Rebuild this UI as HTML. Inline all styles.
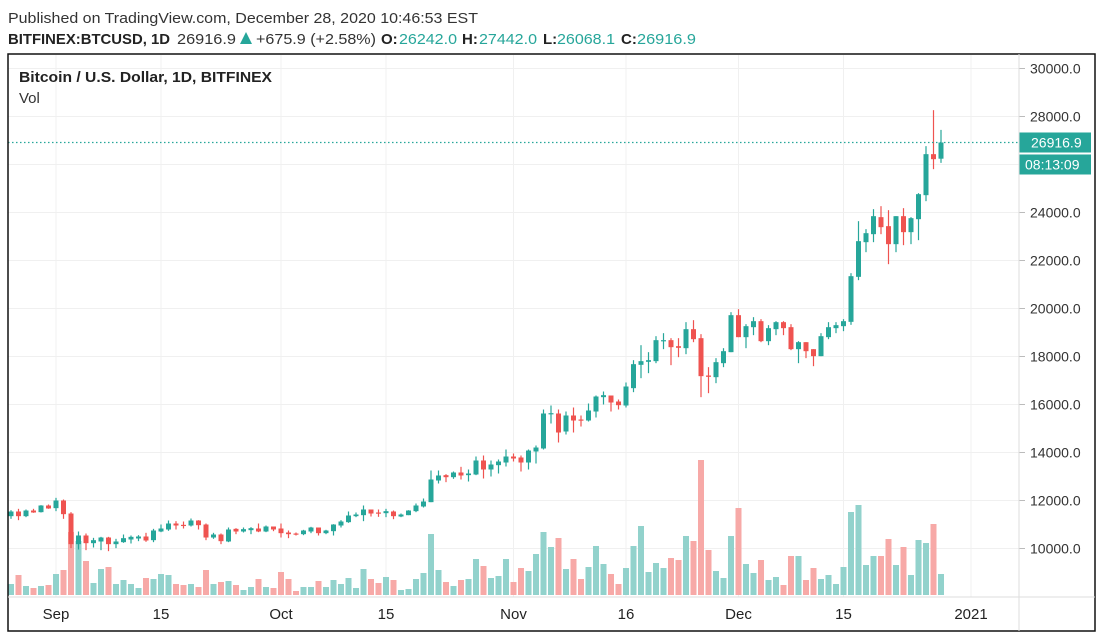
<!DOCTYPE html>
<html><head><meta charset="utf-8"><style>
body{margin:0;background:#fff;}
svg{display:block;font-family:"Liberation Sans",sans-serif;}
</style></head><body>
<svg id="chart" width="1105" height="640" viewBox="0 0 1105 640">
<text x="8" y="23" font-size="15" fill="#333" textLength="470" lengthAdjust="spacingAndGlyphs">Published on TradingView.com, December 28, 2020 10:46:53 EST</text>
<g font-size="15">
<text x="8" y="44" font-weight="bold" fill="#222" textLength="162" lengthAdjust="spacingAndGlyphs">BITFINEX:BTCUSD, 1D</text>
<text x="177" y="44" fill="#333" textLength="59" lengthAdjust="spacingAndGlyphs">26916.9</text>
<polygon points="240,44 252,44 246,32" fill="#26a69a"/>
<text x="256" y="44" fill="#333" textLength="120" lengthAdjust="spacingAndGlyphs">+675.9 (+2.58%)</text>
<text x="381" y="44" font-weight="bold" fill="#222">O:</text>
<text x="399" y="44" fill="#26a69a" textLength="58" lengthAdjust="spacingAndGlyphs">26242.0</text>
<text x="462" y="44" font-weight="bold" fill="#222">H:</text>
<text x="479" y="44" fill="#26a69a" textLength="58" lengthAdjust="spacingAndGlyphs">27442.0</text>
<text x="543" y="44" font-weight="bold" fill="#222">L:</text>
<text x="557" y="44" fill="#26a69a" textLength="58" lengthAdjust="spacingAndGlyphs">26068.1</text>
<text x="621" y="44" font-weight="bold" fill="#222">C:</text>
<text x="637" y="44" fill="#26a69a" textLength="59" lengthAdjust="spacingAndGlyphs">26916.9</text>
</g>
<g id="grid"></g>
<g id="vol"></g>
<g id="candles"></g>
<g id="axes"></g>
<rect x="8" y="54" width="1087" height="577" fill="none" stroke="#111" stroke-width="1.5"/>
<line x1="1019" y1="54" x2="1019" y2="631" stroke="#ddd"/>
<line x1="8" y1="597" x2="1095" y2="597" stroke="#ddd"/>
<text x="19" y="82" font-size="15" font-weight="bold" fill="#222" textLength="253" lengthAdjust="spacingAndGlyphs">Bitcoin / U.S. Dollar, 1D, BITFINEX</text>
<text x="19" y="103" font-size="15" fill="#333">Vol</text>
</svg>
<script>
const opens=[11347,11542,11347,11583,11514,11792,11681,12000,11458,10181,10542,10222,10292,10458,10181,10264,10375,10417,10500,10347,10708,10792,11042,10986,10958,11167,11000,10458,10583,10292,10819,10708,10764,10833,10708,10917,10833,10667,10625,10597,10708,10875,10639,10722,10958,11097,11347,11389,11625,11500,11472,11542,11333,11389,11556,11750,11931,12833,13056,12972,13167,13056,13083,13667,13292,13472,13583,13833,13792,13583,14042,14167,15611,15625,14875,15542,15375,15333,15708,16306,16375,16125,15958,16681,17653,17778,17806,18653,18681,18431,18347,19139,18764,17208,17139,17722,18181,19722,18806,19222,19472,18639,19139,19431,19222,18306,18597,18306,18014,18806,19181,19264,19444,21319,22764,23097,23806,23431,22681,23847,23181,23722,24722,26431,26242];
const highs=[11597,11653,11625,11653,11806,11833,12111,12042,11514,10708,10625,10444,10486,10486,10403,10583,10542,10556,10653,10819,11000,11167,11139,11125,11250,11181,11042,10653,10625,10875,10847,10875,10889,11042,10958,10917,11042,10750,10667,10778,10903,10875,10778,11014,11181,11542,11500,11792,11625,11625,11653,11583,11458,11597,11875,12083,13250,13250,13097,13208,13403,13292,13833,13875,13667,13708,14125,13958,13875,14125,14292,15792,15958,15792,15708,15875,15542,16042,16375,16542,16375,16208,16917,17847,18472,18181,18847,18972,18764,18764,19431,19514,18931,17556,17931,18347,19847,19972,19347,19639,19556,19306,19472,19472,19347,18639,18597,18306,18972,19431,19431,19556,21472,23639,23306,24139,24264,24097,23847,24181,23806,24806,26764,28264,27442];
const lows=[11236,11181,11306,11486,11500,11653,11556,11236,10014,9958,9931,10042,9931,9889,10014,10236,10208,10306,10278,10264,10681,10736,10792,10833,10917,10792,10347,10403,10181,10264,10597,10667,10597,10681,10681,10722,10458,10431,10542,10556,10639,10542,10597,10542,10875,11069,11306,11139,11333,11319,11306,11222,11306,11389,11514,11708,11931,12708,12764,12903,12875,12792,13056,12917,13000,13125,13417,13625,13208,13292,13542,14125,15208,14417,14750,14833,15083,15292,15458,16000,15708,15792,15875,16514,17097,17306,17722,18306,17639,17972,18097,18597,16306,16472,16889,17556,18181,18806,18347,18889,18597,18472,18889,18889,18264,17722,17931,17597,18014,18722,18972,19056,19319,21181,22347,22764,23097,21847,22347,22639,22681,22847,24472,25806,26068.1];
const closes=[11542,11347,11583,11500,11792,11667,12000,11431,10181,10542,10222,10347,10458,10181,10292,10431,10486,10500,10333,10750,10833,11042,10958,10972,11167,10972,10458,10583,10306,10792,10708,10806,10847,10708,10917,10792,10639,10597,10583,10750,10875,10639,10750,11000,11125,11375,11417,11625,11458,11486,11556,11347,11417,11583,11792,11958,12875,13042,12972,13167,13042,13125,13667,13292,13500,13625,13833,13750,13583,14083,14208,15625,15639,14833,15542,15333,15347,15750,16333,16389,16083,15972,16750,17681,17806,17847,18681,18681,18389,18361,19139,18722,17181,17153,17764,18222,19722,18806,19264,19472,18639,19181,19431,19181,18306,18597,18222,18014,18847,19222,19306,19472,21347,22806,23139,23847,23389,22681,23847,23181,23764,24764,26431,26222,26916.9];
const volumes=[11,20,9,7,9,10,21,25,63,54,34,12,26,28,11,15,11,7,17,16,21,20,11,10,11,8,25,11,13,14,10,5,8,16,8,7,23,16,4,8,8,14,8,15,11,17,7,26,16,12,18,15,5,6,16,22,61,25,13,9,15,16,36,29,17,19,36,13,27,24,41,63,48,57,26,36,16,28,49,31,21,11,27,49,69,23,32,27,37,35,59,54,135,45,24,17,59,87,31,22,35,15,18,10,39,39,15,27,16,20,11,28,83,90,30,39,39,56,30,48,20,55,52,71,21];
const priceTicks=[10000,12000,14000,16000,18000,20000,22000,24000,26000,28000,30000];
const dateLabels=["Sep","15","Oct","15","Nov","16","Dec","15","2021"];
const dateIndex=[6,20,36,50,67,82,97,111,128];
const lastPrice=26916.9;
const countdown="08:13:09";

const NS="http://www.w3.org/2000/svg";
function yP(p){return 548.5-(p-10000)*0.024;}
function xI(i){return 11+i*7.5;}
function yV(v){return 595-v;}
function mk(tag,attrs,parent,txt){const e=document.createElementNS(NS,tag);for(const k in attrs)e.setAttribute(k,attrs[k]);if(txt!==undefined)e.textContent=txt;document.getElementById(parent).appendChild(e);return e;}
const G="#26a69a",R="#ef5350";
priceTicks.forEach(p=>{
  const y=yP(p);
  const gl=mk('line',{x1:8,x2:1019,y1:y,y2:y,stroke:'#f0f0f0'},'grid');
  
  
  const tk=mk('line',{x1:1019,x2:1025,y1:y,y2:y,stroke:'#bbb'},'axes');
  
  
  const t=mk('text',{x:1030,y:y+5,'font-size':14,fill:'#333'},'axes',p.toFixed(1));
  
  
});
dateLabels.forEach((d,k)=>{
  const x=xI(dateIndex[k]);
  const gl=mk('line',{x1:x,x2:x,y1:55,y2:597,stroke:'#f0f0f0'},'grid');
  
  
  const t=mk('text',{x:x,y:619,'font-size':15,fill:'#222','text-anchor':'middle'},'axes',d);
  
  
});
volumes.forEach((v,i)=>{
  const up=closes[i]>=opens[i];
  const r=mk('rect',{x:xI(i)-3,y:yV(v),width:6,height:v,fill:up?'#92d2cc':'#f7a9a7'},'vol');
  
  
});
opens.forEach((o,i)=>{
  const c=closes[i],up=c>=o,col=up?G:R,x=xI(i);
  const w=mk('line',{x1:x,x2:x,y1:yP(highs[i]),y2:yP(lows[i]),stroke:col,'stroke-width':1.2},'candles');
  
  
  const top=yP(Math.max(o,c)),bot=yP(Math.min(o,c));
  const b=mk('rect',{x:x-2.5,y:top,width:5,height:Math.max(1.2,bot-top),fill:col},'candles');
  
  
});
const ly=yP(lastPrice);
const dl=mk('line',{x1:8,x2:1019,y1:ly,y2:ly,stroke:G,'stroke-dasharray':'1.5 2.5','stroke-width':1.2},'axes');


const lb=mk('rect',{x:1019,y:ly-10,width:72,height:20,fill:G},'axes');


const lt=mk('text',{x:1031,y:ly+5,'font-size':14,fill:'#fff'},'axes',lastPrice.toFixed(1));


const cb=mk('rect',{x:1019,y:ly+12,width:72,height:20,fill:G},'axes');


const ct=mk('text',{x:1025,y:ly+27,'font-size':14,fill:'#fff'},'axes',countdown);


</script>
</body></html>
